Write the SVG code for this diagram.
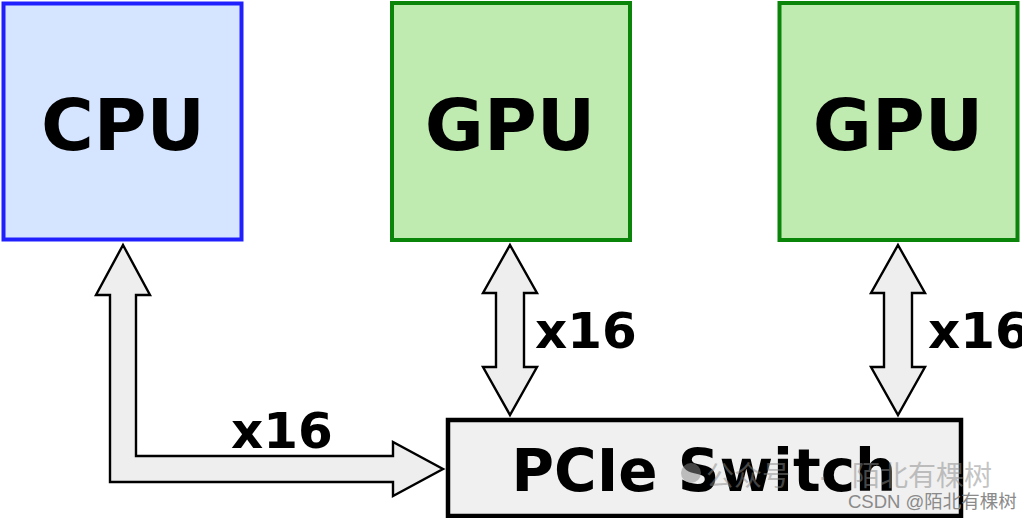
<svg xmlns="http://www.w3.org/2000/svg" width="1022" height="518" viewBox="0 0 1022 518">
<style>
.lbl{font-family:"DejaVu Sans","Liberation Sans",sans-serif;font-weight:bold;fill:#000;text-anchor:middle}
.big{font-size:72px}
.sw{font-size:58px}
.bw{font-size:50px}
.cpu{fill:#d5e5ff;stroke:#2020ff;stroke-width:4}
.gpu{fill:#bfeab0;stroke:#0a850a;stroke-width:4}
.arr{fill:#eeeeee;stroke:#000;stroke-width:2.4;stroke-linejoin:miter}
.wm{font-family:"Liberation Sans","Noto Sans CJK SC",sans-serif;fill:#8a8a8a}
</style>
<rect width="1022" height="518" fill="#ffffff"/>
<g id="cpu">
<rect class="cpu" x="3.5" y="3.5" width="238" height="236"/>
<text class="lbl big" x="123" y="150">CPU</text>
</g>
<g id="gpu1">
<rect class="gpu" x="392" y="3" width="238" height="237"/>
<text class="lbl big" x="510" y="150">GPU</text>
</g>
<g id="gpu2">
<rect class="gpu" x="779.5" y="3" width="238" height="237"/>
<text class="lbl big" x="898" y="150">GPU</text>
</g>
<g id="pcie-switch">
<rect x="448" y="420" width="513" height="96" fill="#f0f0f0" stroke="#000" stroke-width="4.5"/>
<text class="lbl sw" x="704" y="491">PCIe Switch</text>
</g>
<g id="connectors">
<path class="arr" d="M123,245 L150,295 L136,295 L136,456 L393,456 L393,442 L443,469 L393,496 L393,482 L110,482 L110,295 L96,295 Z"/>
<text class="lbl bw" x="282" y="448">x16</text>
<path class="arr" d="M510,245 L537,293 L524,293 L524,367 L537,367 L510,415 L483,367 L496,367 L496,293 L483,293 Z"/>
<text class="lbl bw" x="586" y="348">x16</text>
<path class="arr" d="M898,245 L925,293 L912,293 L912,367 L925,367 L898,415 L871,367 L884,367 L884,293 L871,293 Z"/>
<text class="lbl bw" x="979" y="348">x16</text>
</g>
<g id="watermark" opacity="0.5">
<circle cx="691" cy="473" r="10" fill="#8a8a8a"/>
<text class="wm" x="706" y="486" font-size="28">公众号</text>
<text class="wm" x="818" y="486" font-size="28">·</text>
<text class="wm" x="852" y="486" font-size="28">陌北有棵树</text>
</g>
<text class="wm" x="848" y="508" font-size="18.5" fill="#a0a0a0">CSDN @陌北有棵树</text>
</svg>
